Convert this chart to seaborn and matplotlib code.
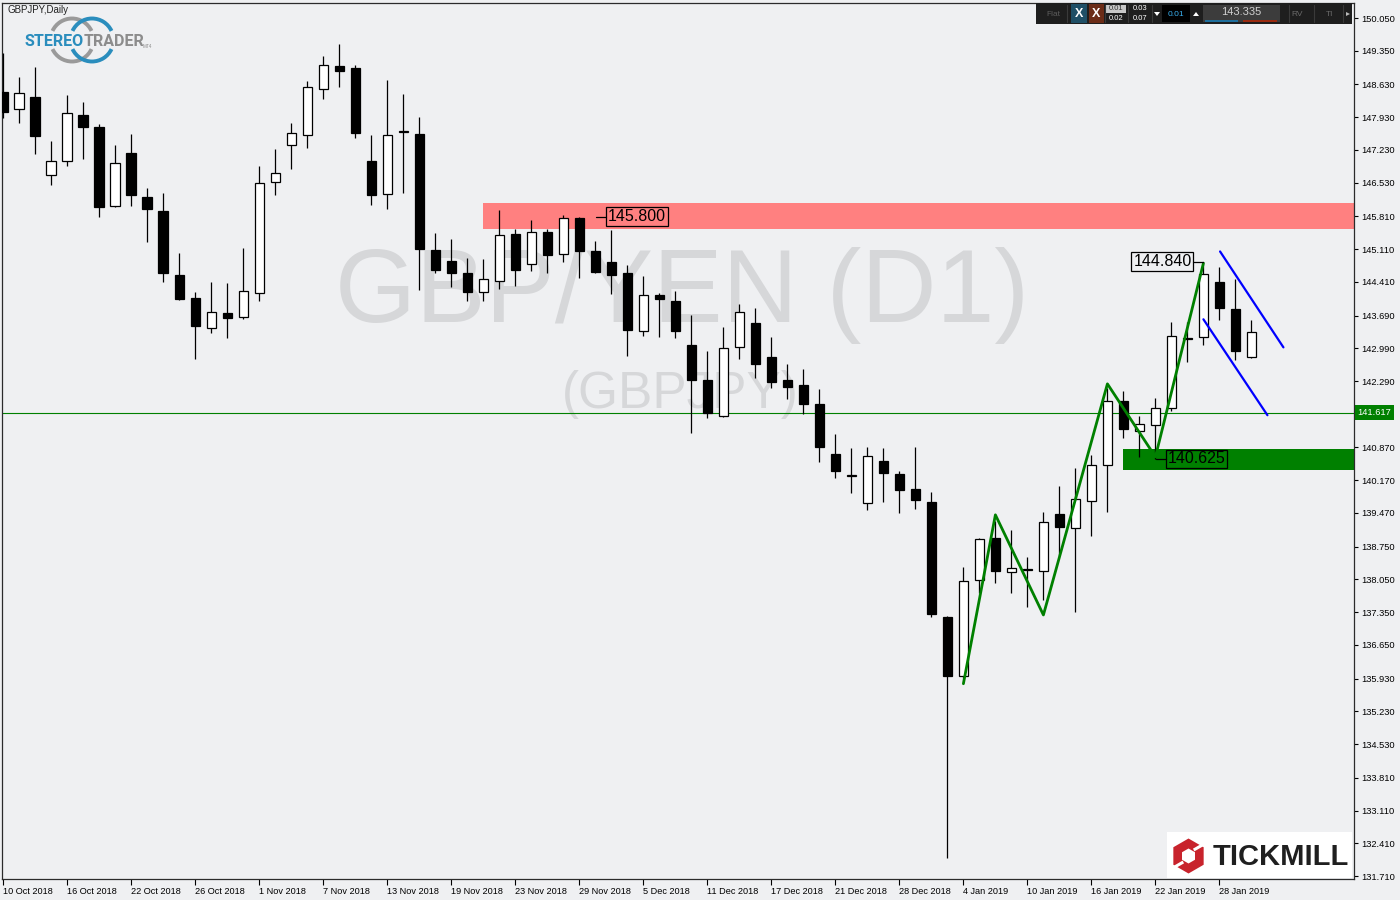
import numpy as np
import pandas as pd
import matplotlib
matplotlib.use("Agg")
import matplotlib.pyplot as plt
import seaborn as sns
from matplotlib.patches import Rectangle, RegularPolygon, Arc, Polygon

# ---------------- data (GBPJPY daily) ----------------
start_date = "2018-10-10"
end_date = "2019-01-30"
holidays = ["2018-12-25", "2019-01-01"]

opens = [148.46, 148.10, 148.36, 146.70, 146.99, 147.97, 147.71, 146.03, 147.16, 146.22,
         145.92, 144.55, 144.06, 143.42, 143.75, 143.65, 144.17, 146.54, 147.33, 147.54,
         148.53, 149.02, 148.98, 146.99, 146.28, 147.61, 147.57, 145.09, 144.86, 144.61,
         144.19, 144.43, 145.43, 144.79, 145.48, 145.00, 145.78, 145.07, 144.84, 144.60,
         143.35, 144.14, 144.00, 143.06, 142.31, 141.54, 143.01, 143.53, 142.80, 142.31,
         142.21, 141.80, 140.73, 140.25, 139.68, 140.58, 140.30, 139.98, 139.70, 137.25,
         135.98, 138.03, 138.94, 138.20, 138.26, 138.22, 139.45, 139.14, 139.72, 140.49,
         141.86, 141.22, 141.34, 141.71, 143.20, 143.23, 144.40, 143.82, 142.80]
highs = [149.31, 148.79, 149.00, 147.42, 148.40, 148.26, 147.78, 147.34, 147.57, 146.42,
         146.31, 145.03, 144.19, 144.41, 144.39, 145.13, 146.89, 147.25, 147.81, 148.70,
         149.24, 149.50, 149.05, 147.56, 148.73, 148.43, 147.93, 145.46, 145.33, 144.91,
         144.90, 145.95, 145.54, 145.73, 145.54, 145.85, 145.80, 145.28, 145.52, 144.76,
         144.54, 144.17, 144.22, 143.70, 142.93, 143.45, 143.94, 143.86, 143.23, 142.66,
         142.55, 142.12, 141.16, 140.85, 140.88, 140.85, 140.37, 140.88, 139.92, 137.27,
         138.32, 138.94, 139.30, 139.11, 138.53, 139.49, 140.05, 140.43, 140.71, 142.14,
         142.08, 141.54, 141.93, 143.55, 143.56, 144.84, 144.73, 144.47, 143.59]
lows = [147.91, 147.81, 147.15, 146.49, 146.89, 147.04, 145.80, 146.00, 146.04, 145.27,
        144.41, 144.03, 142.77, 143.32, 143.20, 143.61, 144.01, 146.27, 146.83, 147.28,
        148.32, 148.58, 147.49, 146.06, 145.97, 146.32, 144.24, 144.59, 144.29, 144.01,
        144.01, 144.25, 144.33, 144.64, 144.59, 144.84, 144.50, 144.61, 144.16, 142.83,
        143.26, 143.24, 143.22, 141.17, 141.51, 141.52, 142.77, 142.35, 142.15, 141.91,
        141.58, 140.57, 140.22, 139.90, 139.54, 139.71, 139.48, 139.56, 137.25, 132.09,
        135.94, 137.75, 137.97, 137.75, 137.45, 137.61, 138.54, 137.36, 138.98, 139.50,
        141.08, 140.67, 140.63, 141.64, 142.70, 143.07, 143.59, 142.73, 142.78]
closes = [148.05, 148.44, 147.53, 146.99, 148.01, 147.73, 146.02, 146.96, 146.27, 145.97,
          144.59, 144.05, 143.47, 143.76, 143.64, 144.21, 146.52, 146.73, 147.59, 148.57,
          149.04, 148.92, 147.60, 146.27, 147.56, 147.61, 145.12, 144.67, 144.59, 144.19,
          144.47, 145.41, 144.67, 145.47, 144.99, 145.78, 145.06, 144.63, 144.56, 143.39,
          144.12, 144.04, 143.35, 142.32, 141.60, 143.00, 143.76, 142.66, 142.28, 142.17,
          141.81, 140.87, 140.37, 140.25, 140.68, 140.33, 139.97, 139.75, 137.30, 135.99,
          138.02, 138.91, 138.22, 138.29, 138.25, 139.27, 139.16, 139.77, 140.49, 141.86,
          141.27, 141.37, 141.71, 143.25, 143.19, 144.57, 143.85, 142.94, 143.33]

xtick_labels = ["10 Oct 2018", "16 Oct 2018", "22 Oct 2018", "26 Oct 2018", "1 Nov 2018",
                "7 Nov 2018", "13 Nov 2018", "19 Nov 2018", "23 Nov 2018", "29 Nov 2018",
                "5 Dec 2018", "11 Dec 2018", "17 Dec 2018", "21 Dec 2018", "28 Dec 2018",
                "4 Jan 2019", "10 Jan 2019", "16 Jan 2019", "22 Jan 2019", "28 Jan 2019"]
ytick_vals = [150.050, 149.350, 148.630, 147.930, 147.230, 146.530, 145.810, 145.110,
              144.410, 143.690, 142.990, 142.290, 141.590, 140.870, 140.170, 139.470,
              138.750, 138.050, 137.350, 136.650, 135.930, 135.230, 134.530, 133.810,
              133.110, 132.410, 131.710]

# annotations (bar index / price)
resistance_zone = (145.54, 146.10)
resistance_start = 29.97
support_zone = (140.39, 140.84)
support_start = 69.98
current_line = 141.617
label_high_prev = 145.800
label_high = 144.840
label_low = 140.625
zigzag_x = [60, 62, 65, 69, 72, 75]
zigzag_y = [135.82, 139.43, 137.29, 142.23, 140.67, 144.81]
chan_upper_x = [76.04, 80.0]
chan_upper_y = [145.06, 143.01]
chan_lower_x = [75.0, 79.0]
chan_lower_y = [143.61, 141.56]
toolbar_price = "143.335"

# ---------------- styling ----------------
sns.set_theme(style="white")
plt.rcParams['font.family'] = ['Liberation Sans', 'DejaVu Sans']
BG = '#EFF0F2'

dates = pd.bdate_range(start_date, end_date)
dates = dates[~dates.isin(pd.to_datetime(holidays))]
date_str = [f"{d.day} {d.strftime('%b %Y')}" for d in dates]
df = pd.DataFrame({"date": dates, "open": opens, "high": highs, "low": lows, "close": closes})
df["x"] = np.arange(len(df))

fig = plt.figure(figsize=(14, 9), dpi=100)
fig.patch.set_facecolor(BG)
ax = fig.add_axes([2 / 1400, 21 / 900, 1352 / 1400, 876 / 900])
ax.set_facecolor(BG)
ax.set_xlim(-0.08, 84.41)
ax.set_ylim(131.646, 150.371)

# watermark
ax.text(0.5033, 0.6358, "GBP/YEN (D1)", transform=ax.transAxes, ha='center', va='baseline',
        fontsize=75, color='#D6D7D9', zorder=0.5, family=['Liberation Sans', 'DejaVu Sans'])
ax.text(0.5015, 0.5377, "(GBPJPY)", transform=ax.transAxes, ha='center', va='baseline',
        fontsize=37, color='#D6D7D9', zorder=0.5, family=['Liberation Sans', 'DejaVu Sans'])

# zones
ax.add_patch(Rectangle((resistance_start, resistance_zone[0]), 200, resistance_zone[1] - resistance_zone[0],
                       fc='#FF8080', ec='none', zorder=1))
ax.add_patch(Rectangle((support_start, support_zone[0]), 200, support_zone[1] - support_zone[0],
                       fc='#008000', ec='none', zorder=1))
ax.axhline(current_line, color='#008000', lw=0.8, zorder=2)

# candles
bull = df["close"] >= df["open"]
ax.vlines(df["x"], df["low"], df["high"], color='black', lw=0.9, zorder=3)
body_h = np.maximum((df["close"] - df["open"]).abs(), 0.025)
body_b = np.minimum(df["open"], df["close"])
ax.bar(df["x"], body_h, bottom=body_b, width=0.6, color=np.where(bull, 'white', 'black'),
       edgecolor='black', linewidth=0.9, zorder=4)

# zigzag and channel
sns.lineplot(x=zigzag_x, y=zigzag_y, sort=False, estimator=None, color='#008000', linewidth=2.0,
             ax=ax, zorder=6)
sns.lineplot(x=chan_upper_x, y=chan_upper_y, sort=False, estimator=None, color='#0000FF', linewidth=1.6,
             ax=ax, zorder=6)
sns.lineplot(x=chan_lower_x, y=chan_lower_y, sort=False, estimator=None, color='#0000FF', linewidth=1.6,
             ax=ax, zorder=6)

# price labels
box = dict(boxstyle='square,pad=0.12', fc='none', ec='black', lw=0.9)
ax.plot([37.04, 37.67], [label_high_prev, label_high_prev], color='black', lw=0.9, zorder=7)
ax.text(37.77, label_high_prev, f"{label_high_prev:.3f}", ha='left', va='center', fontsize=11.5,
        color='black', bbox=box, zorder=7)
ax.plot([74.36, 75.0], [label_high, label_high], color='black', lw=0.9, zorder=7)
ax.text(74.26, label_high, f"{label_high:.3f}", ha='right', va='center', fontsize=11.5,
        color='black', bbox=box, zorder=7)
ax.plot([72.04, 72.67], [label_low, label_low], color='black', lw=0.9, zorder=7)
ax.text(72.77, label_low, f"{label_low:.3f}", ha='left', va='center', fontsize=11.5,
        color='black', bbox=box, zorder=7)

# axes / ticks
for s in ax.spines.values():
    s.set_visible(True)
    s.set_color('#2B2B2B')
    s.set_linewidth(0.9)
ax.yaxis.tick_right()
ax.set_yticks(ytick_vals)
# the tick label under the current-price box is hidden in the reference
ax.set_yticklabels(["" if abs(v - current_line) < 0.1 else f"{v:.3f}" for v in ytick_vals])
ax.tick_params(axis='y', right=True, left=False, direction='out', length=3, width=0.8, pad=2,
               labelsize=6.7, colors='black')
tick_pos = [date_str.index(l) for l in xtick_labels]
ax.set_xticks(tick_pos)
ax.set_xticklabels(xtick_labels, ha='left')
ax.tick_params(axis='x', bottom=True, direction='out', length=4, width=0.8, pad=1.5,
               labelsize=6.6, colors='black')
ax.set_xlabel("")
ax.set_ylabel("")

ax.annotate(f"{current_line:.3f}", xy=(1, current_line), xycoords=('axes fraction', 'data'),
            xytext=(2.6, 0), textcoords='offset points', ha='left', va='center', fontsize=6.7,
            color='white', bbox=dict(boxstyle='square,pad=0.3', fc='#008000', ec='none'),
            annotation_clip=False, zorder=10)

# ---------------- overlay decorations (pixel coordinates) ----------------
ov = fig.add_axes([0, 0, 1, 1], zorder=10)
ov.set_xlim(0, 1400)
ov.set_ylim(900, 0)
ov.axis('off')
ov.patch.set_alpha(0)


def rect(x0, y0, x1, y1, fc, ec='none', lw=0):
    ov.add_patch(Rectangle((x0, y0), x1 - x0, y1 - y0, fc=fc, ec=ec, lw=lw))


ov.text(7, 10, "GBPJPY,Daily", fontsize=7, color='#222222', ha='left', va='center')

# StereoTrader logo
for cx, col in [(72, '#9A9A9A'), (92, '#2A8DBD')]:
    ov.add_patch(Arc((cx, 40), 43, 43, theta1=205, theta2=335, color=col, lw=2.8))
    ov.add_patch(Arc((cx, 40), 43, 43, theta1=25, theta2=155, color=col, lw=2.8))
ov.text(83.5, 41, "STEREO", fontsize=11.5, color='#2A8DBD', ha='right', va='center', weight='bold',
        family=['Roboto', 'DejaVu Sans'])
ov.text(83.5, 41, "TRADER", fontsize=11.5, color='#8C8C8C', ha='left', va='center', weight='bold',
        family=['Roboto', 'DejaVu Sans'])
ov.text(143, 47, "MT4", fontsize=3.3, color='#8C8C8C', ha='left', va='center')

# toolbar
rect(1036, 3, 1352, 24, '#1E1E1E')
ov.text(1053, 14, "Flat", color='#5C5C5C', fontsize=6, ha='center', va='center')
rect(1071, 4, 1087, 23, '#1F4F66')
ov.text(1079, 14, "X", color='white', fontsize=9, ha='center', va='center', weight='bold')
rect(1089, 4, 1104, 23, '#6B2C17')
ov.text(1096.5, 14, "X", color='white', fontsize=9, ha='center', va='center', weight='bold')
rect(1106, 5, 1126, 13, '#C8C8C8')
ov.text(1116, 9, "0.01", color='#333333', fontsize=5.5, ha='center', va='center')
ov.text(1116, 19, "0.02", color='white', fontsize=5.5, ha='center', va='center')
ov.text(1140, 9, "0.03", color='white', fontsize=5.5, ha='center', va='center')
ov.text(1140, 19, "0.07", color='white', fontsize=5.5, ha='center', va='center')
for sx in [1067, 1104.5, 1128, 1152, 1289, 1314, 1343]:
    ov.plot([sx, sx], [5, 22], color='#3A3A3A', lw=0.8)
ov.add_patch(Polygon([[1154, 12], [1160, 12], [1157, 16]], closed=True, fc='white', ec='none'))
rect(1162, 5, 1190, 22, '#000000')
ov.text(1176, 14, "0.01", color='#3AB0F0', fontsize=6, ha='center', va='center')
ov.add_patch(Polygon([[1193, 16], [1199, 16], [1196, 12]], closed=True, fc='white', ec='none'))
rect(1203, 5, 1280, 22, '#3C3C3C')
ov.text(1241, 12, toolbar_price, color='#D0D0D0', fontsize=8, ha='center', va='center')
rect(1205, 19.5, 1238, 21.5, '#1E6E9C')
rect(1243, 19.5, 1277, 21.5, '#9A2B10')
ov.text(1297, 14, "RV", color='#6A6A6A', fontsize=6, ha='center', va='center')
ov.text(1330, 14, "TI", color='#6A6A6A', fontsize=6, ha='center', va='center')
ov.add_patch(Polygon([[1350, 14], [1346, 12], [1346, 16]], closed=True, fc='#BBBBBB', ec='none'))

# Tickmill logo
rect(1167, 832, 1352, 878, 'white')
hx, hy = 1188.5, 856
ov.add_patch(RegularPolygon((hx, hy), numVertices=6, radius=17.5, orientation=0, fc='#C8232C', ec='none'))
ov.add_patch(RegularPolygon((hx, hy), numVertices=6, radius=7.5, orientation=0, fc='white', ec='none'))
ang = np.deg2rad(-30)
ov.plot([hx + 6 * np.cos(ang), hx + 19 * np.cos(ang)], [hy + 6 * np.sin(ang) - 3, hy + 19 * np.sin(ang) - 3],
        color='white', lw=2.2, solid_capstyle='butt')
ang = np.deg2rad(150)
ov.plot([hx + 6 * np.cos(ang), hx + 19 * np.cos(ang)], [hy + 6 * np.sin(ang) + 3, hy + 19 * np.sin(ang) + 3],
        color='white', lw=2.2, solid_capstyle='butt')
ov.text(1213, 857, "TICKMILL", fontsize=21, color='#1F1F1F', weight='bold', ha='left', va='center',
        family=['Liberation Sans', 'DejaVu Sans'])

fig.savefig("out.png", dpi=100, facecolor=BG)
